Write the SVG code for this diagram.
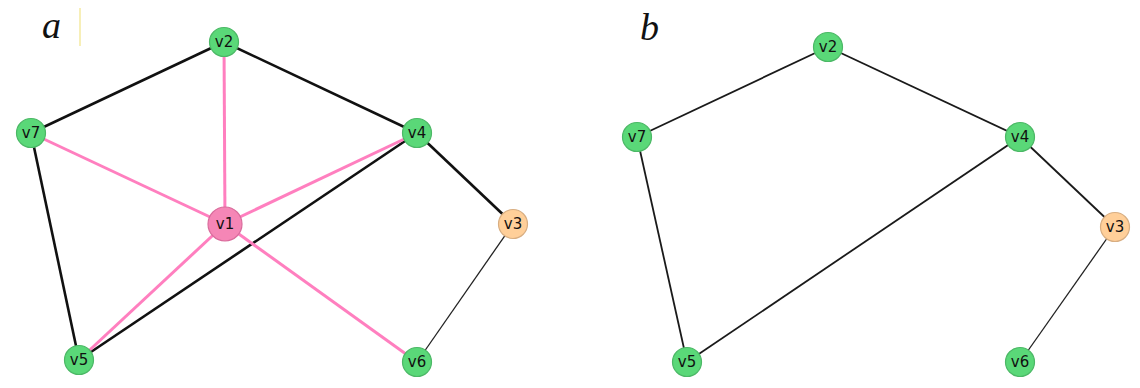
<svg xmlns="http://www.w3.org/2000/svg" width="1140" height="388" viewBox="0 0 1140 388">
<style>
.e{stroke:#111;stroke-width:2.6;fill:none}
.eb{stroke:#1a1a1a;stroke-width:1.8;fill:none}
.thin{stroke:#222;stroke-width:1.3;fill:none}
.p{stroke:#ff7fbf;stroke-width:3;fill:none}
.g{fill:#5ad878;stroke:#4cb866;stroke-width:1.2}
.o{fill:#ffcf99;stroke:#d8ae82;stroke-width:1.2}
.pk{fill:#f586b6;stroke:#d96c9c;stroke-width:1.2}
.t{font-family:"DejaVu Sans",sans-serif;font-size:15px;fill:#111;text-anchor:middle;dominant-baseline:central}
.lbl{font-family:"Liberation Serif",serif;font-style:italic;font-size:38px;fill:#111}
</style>
<rect width="1140" height="388" fill="#fff"/>
<text class="lbl" x="42" y="38">a</text>
<line x1="80" y1="8" x2="80" y2="46" stroke="#f5eaa0" stroke-width="1.5"/>
<text class="lbl" x="640" y="40">b</text>
<g id="connectors">
<line class="e" x1="224" y1="42" x2="31" y2="133"/>
<line class="e" x1="224" y1="42" x2="417" y2="133"/>
<line class="e" x1="31" y1="133" x2="79" y2="360"/>
<line class="e" x1="417" y1="133" x2="513" y2="224"/>
<line class="thin" x1="513" y1="224" x2="417" y2="362"/>
<line class="e" x1="417" y1="133" x2="79" y2="360"/>
<line class="p" x1="225" y1="224" x2="224" y2="42"/>
<line class="p" x1="225" y1="224" x2="31" y2="133"/>
<line class="p" x1="225" y1="224" x2="417" y2="133"/>
<line class="p" x1="225" y1="224" x2="79" y2="360"/>
<line class="p" x1="225" y1="224" x2="417" y2="362"/>
<line class="eb" x1="828" y1="47" x2="637" y2="137"/>
<line class="eb" x1="828" y1="47" x2="1020" y2="137"/>
<line class="eb" x1="637" y1="137" x2="687" y2="362"/>
<line class="eb" x1="1020" y1="137" x2="687" y2="362"/>
<line class="eb" x1="1020" y1="137" x2="1115" y2="227"/>
<line class="thin" x1="1115" y1="227" x2="1020" y2="362"/>
</g>
<g id="a-v2"><circle class="g" cx="224" cy="42" r="14.5"/><text class="t" x="224" y="42">v2</text></g>
<g id="a-v7"><circle class="g" cx="31" cy="133" r="14.5"/><text class="t" x="31" y="133">v7</text></g>
<g id="a-v4"><circle class="g" cx="417" cy="133" r="14.5"/><text class="t" x="417" y="133">v4</text></g>
<g id="a-v1"><circle class="pk" cx="225" cy="224" r="17"/><text class="t" x="225" y="224">v1</text></g>
<g id="a-v3"><circle class="o" cx="513" cy="224" r="14.5"/><text class="t" x="513" y="224">v3</text></g>
<g id="a-v5"><circle class="g" cx="79" cy="360" r="14.5"/><text class="t" x="79" y="360">v5</text></g>
<g id="a-v6"><circle class="g" cx="417" cy="362" r="14.5"/><text class="t" x="417" y="362">v6</text></g>
<g id="b-v2"><circle class="g" cx="828" cy="47" r="14.5"/><text class="t" x="828" y="47">v2</text></g>
<g id="b-v7"><circle class="g" cx="637" cy="137" r="14.5"/><text class="t" x="637" y="137">v7</text></g>
<g id="b-v4"><circle class="g" cx="1020" cy="137" r="14.5"/><text class="t" x="1020" y="137">v4</text></g>
<g id="b-v3"><circle class="o" cx="1115" cy="227" r="14.5"/><text class="t" x="1115" y="227">v3</text></g>
<g id="b-v5"><circle class="g" cx="687" cy="362" r="14.5"/><text class="t" x="687" y="362">v5</text></g>
<g id="b-v6"><circle class="g" cx="1020" cy="362" r="14.5"/><text class="t" x="1020" y="362">v6</text></g>
</svg>
